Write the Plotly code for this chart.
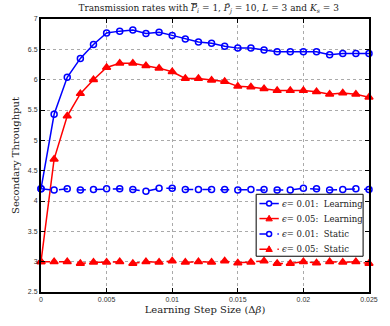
import plotly.graph_objects as go

step = [0.000, 0.001, 0.002, 0.003, 0.004, 0.005, 0.006, 0.007, 0.008, 0.009,
        0.010, 0.011, 0.012, 0.013, 0.014, 0.015, 0.016, 0.017, 0.018, 0.019,
        0.020, 0.021, 0.022, 0.023, 0.024, 0.025]

learn_001 = [4.20, 5.43, 6.04, 6.35, 6.58, 6.77, 6.80, 6.82, 6.76, 6.78,
             6.73, 6.67, 6.62, 6.60, 6.55, 6.52, 6.52, 6.49, 6.46, 6.46,
             6.46, 6.46, 6.41, 6.43, 6.43, 6.43]
learn_005 = [3.00, 4.69, 5.40, 5.77, 6.00, 6.20, 6.27, 6.27, 6.23, 6.19,
             6.13, 6.02, 6.02, 5.99, 5.97, 5.89, 5.88, 5.85, 5.82, 5.82,
             5.82, 5.80, 5.76, 5.78, 5.76, 5.71]
static_001 = [4.20, 4.18, 4.20, 4.18, 4.19, 4.20, 4.20, 4.19, 4.16, 4.21,
              4.21, 4.19, 4.19, 4.19, 4.19, 4.18, 4.19, 4.19, 4.18, 4.18,
              4.21, 4.20, 4.18, 4.19, 4.20, 4.19]
static_005 = [3.00, 3.00, 3.00, 2.97, 2.99, 2.99, 3.00, 2.97, 3.00, 2.99,
              3.01, 2.99, 3.00, 2.99, 3.01, 2.98, 2.99, 3.01, 2.97, 2.97,
              3.00, 2.98, 3.00, 2.99, 3.00, 2.97]

names = ["<i>ϵ</i>= 0.01:  Learning", "<i>ϵ</i>= 0.05:  Learning",
         "<i>ϵ</i>= 0.01:  Static", "<i>ϵ</i>= 0.05:  Static"]

x_ticks = [0, 0.005, 0.01, 0.015, 0.02, 0.025]
x_tick_labels = ["0", "0.005", "0.01", "0.015", "0.02", "0.025"]
y_ticks = [2.5, 3, 3.5, 4, 4.5, 5, 5.5, 6, 6.5, 7]
y_tick_labels = ["2.5", "3", "3.5", "4", "4.5", "5", "5.5", "6", "6.5", "7"]

BLUE = "rgb(0,0,255)"
RED = "rgb(255,0,0)"
SERIF = "DejaVu Serif, Liberation Serif"

fig = go.Figure()
series = [
    (learn_001, BLUE, "solid", "circle-open", 6),
    (learn_005, RED, "solid", "triangle-up", 7),
    (static_001, BLUE, "dash", "circle-open", 6),
    (static_005, RED, "dash", "triangle-up", 7),
]
for (ys, col, dash, sym, sz), nm in zip(series, names):
    fig.add_trace(go.Scatter(
        x=step, y=ys, name=nm, mode="lines+markers", cliponaxis=False,
        showlegend=False,
        line=dict(color=col, width=1.5, dash=dash),
        marker=dict(symbol=sym, size=sz, color=col, line=dict(color=col, width=1.5)),
    ))

# ---- MATLAB-style legend box (paper coordinates) ----
shapes = []
annotations = []
box = dict(x0=0.656, x1=0.982, y0=0.131, y1=0.358)
shapes.append(dict(type="rect", xref="paper", yref="paper", layer="above",
                   fillcolor="white", line=dict(color="black", width=1), **box))
entry_y = [0.324, 0.269, 0.212, 0.157]
lx0, lx1, lxm, tx = 0.666, 0.725, 0.6955, 0.729
for (ys, col, dash, sym, sz), nm, ey in zip(series, names, entry_y):
    shapes.append(dict(type="line", xref="paper", yref="paper", layer="above",
                       x0=lx0, x1=lx1, y0=ey, y1=ey,
                       line=dict(color=col, width=1.5, dash=dash)))
    if sym.startswith("circle"):
        shapes.append(dict(type="circle", xref="paper", yref="paper", layer="above",
                           xsizemode="pixel", ysizemode="pixel", xanchor=lxm, yanchor=ey,
                           x0=-2.5, x1=2.5, y0=-2.5, y1=2.5,
                           fillcolor="white", line=dict(color=col, width=1.5)))
    else:
        shapes.append(dict(type="path", xref="paper", yref="paper", layer="above",
                           xsizemode="pixel", ysizemode="pixel", xanchor=lxm, yanchor=ey,
                           path="M -3.2,-2.3 L 3.2,-2.3 L 0,3.3 Z",
                           fillcolor=col, line=dict(color=col, width=1)))
    annotations.append(dict(text=nm, xref="paper", yref="paper", x=tx, y=ey,
                            xanchor="left", yanchor="middle", showarrow=False,
                            font=dict(family=SERIF, size=8.5, color="#222")))

axis_common = dict(
    showline=True, linecolor="black", linewidth=2, mirror="ticks",
    ticks="inside", ticklen=4, tickcolor="black", tickwidth=1,
    showgrid=True, gridcolor="rgb(170,170,170)", gridwidth=1, griddash="dot",
    zeroline=False, tickfont=dict(family="Liberation Sans, Arial", size=7, color="#333"),
)

fig.update_layout(
    width=390, height=326,
    margin=dict(l=41, r=15, t=19, b=33),
    paper_bgcolor="white", plot_bgcolor="white",
    showlegend=False,
    shapes=shapes, annotations=annotations,
    title=dict(
        text="Transmission rates with <span style='text-decoration:overline'><i>P</i></span><sub><i>i</i></sub> = 1, <i>P̄</i><sub><i>j</i></sub> = 10, <i>L</i> = 3 and <i>K</i><sub><i>s</i></sub> = 3",
        x=0.535, xanchor="center", y=0.985, yanchor="top",
        font=dict(family=SERIF, size=9, color="#222"),
    ),
    xaxis=dict(range=[0, 0.025], tickvals=x_ticks, ticktext=x_tick_labels,
               title=dict(text="Learning Step Size (Δ<i>β</i>)", standoff=4,
                          font=dict(family=SERIF, size=10, color="#222")),
               **axis_common),
    yaxis=dict(range=[2.5, 7], tickvals=y_ticks, ticktext=y_tick_labels,
               title=dict(text="Secondary Throughput", standoff=6,
                          font=dict(family=SERIF, size=10, color="#222")),
               **axis_common),
)

fig.write_html("out.html")
